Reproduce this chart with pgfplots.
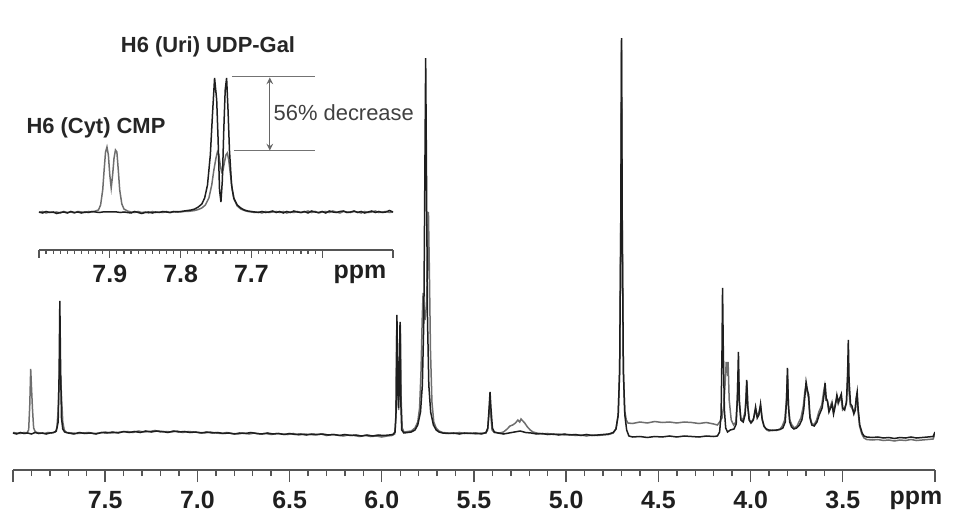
\documentclass[border=0pt]{standalone}
\usepackage{fontspec}
\setmainfont{Liberation Sans}
\usepackage{pgfplots}
\pgfplotsset{compat=1.18}

\definecolor{traceA}{HTML}{1E1E1E}
\definecolor{traceB}{HTML}{6E6E6E}
\definecolor{axcol}{HTML}{555555}

\begin{document}
\begin{tikzpicture}
\useasboundingbox (0,0) rectangle (481bp,263bp);

% ---- main spectrum ----
\begin{axis}[
    at={(6.5bp,28bp)}, anchor=south west,
    scale only axis, width=461bp, height=220bp,
    xmin=3, xmax=8, ymin=0, ymax=440,
    x dir=reverse,
    axis x line=bottom, axis y line=none,
    axis line style={-, color=axcol, line width=0.8bp},
    xtick={3.5,4.0,4.5,5.0,5.5,6.0,6.5,7.0,7.5,8.0},
    xticklabels={3.5,4.0,4.5,5.0,5.5,6.0,6.5,7.0,7.5,{}},
    extra x ticks={3.0},
    extra x tick labels={ppm},
    extra x tick style={xticklabel style={xshift=-9.5bp}},
    minor x tick num=4,
    tick align=outside,
    major tick length=6bp, minor tick length=3bp,
    tick style={color=axcol, line width=0.7bp},
    xticklabel style={font=\bfseries\fontsize{12.5}{14}\selectfont, text=black!88, yshift=-1bp},
]
% second spectrum (CMP present, UDP-Gal decreased)
\addplot[traceB, line width=0.75bp] table {
8.00 37.5
7.98 37
7.96 36.5
7.94 37.5
7.925 37
7.915 40
7.909 65
7.904 101
7.899 80
7.894 60
7.888 42
7.880 38.5
7.87 37.5
7.85 37
7.83 36.5
7.81 37.5
7.79 37
7.77 38
7.762 42
7.755 60
7.750 88
7.746 100
7.741 90
7.736 70
7.730 48
7.722 40
7.71 37.5
7.68 37
7.65 36.5
7.62 37
7.59 37.5
7.56 36.5
7.53 37
7.50 38
7.47 37
7.44 37.5
7.41 38
7.38 38.5
7.35 37.5
7.32 39
7.29 38
7.26 38.5
7.23 39.5
7.20 38
7.17 38.5
7.14 38
7.11 39
7.08 37.5
7.05 38.5
7.02 38
6.99 37.5
6.96 37
6.93 38
6.90 37
6.87 36.5
6.84 37.5
6.81 36.5
6.78 36
6.75 37
6.72 36
6.69 37
6.66 36
6.63 36.5
6.60 35.5
6.57 36.5
6.54 36
6.51 35.5
6.48 36.5
6.45 35
6.42 36
6.39 35.5
6.36 35
6.33 36
6.30 34.5
6.27 35.5
6.24 35
6.21 34
6.18 35
6.15 34.5
6.12 33.5
6.09 34.5
6.06 33.5
6.03 34
6.00 33
5.97 34
5.945 34.5
5.930 36
5.924 50
5.919 140
5.914 95
5.909 60
5.904 100
5.899 145
5.895 70
5.889 42
5.88 38
5.86 38.5
5.84 39
5.82 42
5.805 48
5.795 62
5.787 100
5.781 150
5.776 177
5.771 160
5.765 150
5.758 165
5.752 200
5.747 258
5.742 200
5.736 120
5.728 68
5.718 48
5.705 42
5.69 39
5.67 37.5
5.64 37
5.61 36.5
5.58 37.5
5.55 36.5
5.52 37
5.49 36
5.46 37
5.435 37
5.426 40
5.419 55
5.414 68
5.409 55
5.402 40
5.39 37.5
5.36 37
5.34 38
5.32 41
5.305 44
5.29 45
5.275 47
5.262 50
5.252 48
5.245 51
5.235 49
5.225 47
5.21 43
5.195 40
5.18 38
5.16 37
5.13 36
5.10 36.5
5.07 35.5
5.04 36
5.01 35
4.98 35.5
4.95 34.5
4.92 35
4.89 34
4.86 35
4.83 34.5
4.80 35
4.77 35.5
4.745 37
4.73 41
4.718 55
4.710 100
4.704 240
4.700 420
4.696 240
4.690 100
4.683 60
4.674 50
4.665 47
4.64 46.5
4.60 48
4.56 47
4.52 48.5
4.48 47.5
4.44 48
4.40 47
4.36 48
4.32 47.5
4.28 46.5
4.24 47.5
4.20 46
4.18 45
4.168 48
4.155 52
4.145 65
4.137 90
4.132 108
4.127 100
4.122 108
4.116 70
4.105 50
4.092 45
4.080 48
4.072 70
4.068 100
4.062 68
4.053 52
4.042 50
4.030 58
4.025 72
4.020 88
4.014 62
4.006 50
3.995 48
3.983 52
3.972 60
3.963 54
3.954 58
3.946 64
3.937 50
3.925 43
3.912 40
3.90 39
3.88 40
3.86 39.5
3.84 41
3.828 44
3.815 50
3.806 68
3.800 95
3.794 62
3.787 50
3.776 45
3.762 42
3.748 44
3.738 48
3.727 52
3.714 64
3.706 78
3.700 84
3.693 78
3.686 72
3.679 55
3.669 47
3.656 45
3.642 50
3.630 58
3.614 65
3.604 78
3.598 84
3.592 70
3.584 70
3.576 60
3.567 64
3.559 68
3.551 58
3.541 66
3.533 72
3.525 66
3.517 70
3.509 72
3.501 60
3.491 62
3.481 66
3.475 85
3.471 110
3.467 80
3.459 64
3.451 62
3.441 58
3.433 62
3.428 70
3.423 75
3.418 60
3.409 44
3.397 36
3.385 32
3.37 30.5
3.34 30
3.31 30.5
3.28 29.5
3.25 30
3.22 29
3.19 30
3.16 29.5
3.13 30.5
3.10 29.5
3.07 30
3.04 30.5
3.01 31
3.00 36
};
% reference spectrum
\addplot[traceA, line width=0.75bp] table {
8.00 37
7.98 36
7.96 37.5
7.94 36.5
7.92 37
7.90 36
7.88 37.5
7.86 36.5
7.84 37
7.82 36
7.80 37
7.78 37.5
7.765 39
7.755 48
7.750 95
7.746 169
7.742 105
7.737 52
7.730 41
7.72 38
7.70 37
7.67 36
7.64 37.5
7.61 36.5
7.58 37
7.55 36
7.52 37.5
7.49 37
7.46 38
7.43 37
7.40 38.5
7.37 37.5
7.34 38.5
7.31 37.5
7.28 39
7.25 38
7.22 39
7.19 38.5
7.16 37.5
7.13 39
7.10 38
7.07 38.5
7.04 37.5
7.01 38
6.98 37
6.95 38
6.92 37
6.89 37.5
6.86 36.5
6.83 37
6.80 36
6.77 37
6.74 36.5
6.71 37.5
6.68 36.5
6.65 36
6.62 37
6.59 36
6.56 36.5
6.53 35.5
6.50 36.5
6.47 35.5
6.44 36
6.41 35
6.38 36
6.35 35.5
6.32 36
6.29 35
6.26 35.5
6.23 34.5
6.20 35.5
6.17 34.5
6.14 35
6.11 34
6.08 35
6.05 34
6.02 35
5.99 34.5
5.96 35
5.94 35.5
5.928 38
5.922 60
5.918 155
5.913 90
5.909 62
5.905 95
5.901 148
5.897 70
5.892 40
5.88 37
5.86 37.5
5.84 38
5.82 40
5.805 45
5.79 58
5.78 85
5.772 150
5.767 280
5.762 412
5.757 280
5.752 150
5.745 85
5.735 58
5.72 45
5.705 40
5.69 38
5.67 37
5.64 36.5
5.61 37
5.58 36
5.55 37
5.52 36.5
5.49 37
5.46 36
5.435 37.5
5.425 42
5.418 62
5.413 78
5.408 62
5.400 42
5.39 38
5.37 37
5.34 36
5.31 37
5.28 38
5.25 39
5.22 37.5
5.19 37
5.16 36
5.13 36.5
5.10 35.5
5.07 36
5.04 35
5.01 36
4.98 35
4.95 35.5
4.92 34.5
4.89 35.5
4.86 34.5
4.83 35
4.80 35.5
4.77 36
4.745 37.5
4.73 41
4.718 55
4.710 100
4.704 250
4.700 432
4.696 250
4.690 100
4.682 55
4.672 40
4.66 34
4.64 33
4.60 33.5
4.56 32.5
4.52 33.5
4.48 33
4.44 34
4.40 33
4.36 34
4.32 33.5
4.28 33
4.24 34
4.20 33.5
4.18 34
4.168 38
4.160 55
4.155 120
4.152 182
4.148 120
4.142 60
4.135 42
4.125 38
4.11 40
4.09 41
4.078 46
4.071 75
4.066 118
4.061 70
4.053 50
4.040 48
4.030 55
4.025 70
4.021 90
4.016 65
4.008 50
3.998 47
3.985 50
3.973 63
3.964 52
3.955 55
3.946 66
3.938 52
3.928 44
3.915 41
3.90 40
3.88 39.5
3.86 40
3.84 40.5
3.825 42
3.812 48
3.805 70
3.800 102
3.795 65
3.788 48
3.778 43
3.765 41
3.75 42
3.735 45
3.722 50
3.712 60
3.705 75
3.699 88
3.692 80
3.685 75
3.678 52
3.668 45
3.655 44
3.640 48
3.628 55
3.612 62
3.602 75
3.596 87
3.590 72
3.582 68
3.575 58
3.566 62
3.558 66
3.550 56
3.540 65
3.532 75
3.524 68
3.516 72
3.508 76
3.500 62
3.490 60
3.480 68
3.474 95
3.470 130
3.466 90
3.458 66
3.450 64
3.440 56
3.432 60
3.427 72
3.422 78
3.417 62
3.408 45
3.395 37
3.385 34
3.37 33
3.34 32.5
3.31 33
3.28 32
3.25 32.5
3.22 31.5
3.19 32.5
3.16 32
3.13 33
3.10 32
3.07 32.5
3.04 33
3.01 33.5
3.00 38
};
\end{axis}

% ---- inset: expansion of the H6 region ----
\begin{axis}[
    at={(19.5bp,138bp)}, anchor=south west,
    scale only axis, width=177bp, height=95bp,
    xmin=7.5, xmax=8.0, ymin=0, ymax=190,
    x dir=reverse, clip=false,
    axis x line=bottom, axis y line=none,
    axis line style={-, color=axcol, line width=0.8bp},
    xtick={7.6,7.7,7.8,7.9,8.0},
    xticklabels={{},7.7,7.8,7.9,{}},
    extra x ticks={7.5},
    extra x tick labels={ppm},
    extra x tick style={xticklabel style={xshift=-16.5bp}},
    minor x tick num=9,
    tick align=outside,
    major tick length=4bp, minor tick length=2bp,
    tick style={color=axcol, line width=0.6bp},
    xticklabel style={font=\bfseries\fontsize{12.5}{14}\selectfont, text=black!88},
]
\addplot[traceB, line width=0.75bp] table {
8.000 37.5
7.995 38.5
7.990 37
7.985 38
7.980 37.5
7.975 38
7.970 37
7.965 38.5
7.960 37.5
7.955 38
7.950 37
7.945 38.5
7.940 38
7.935 37.5
7.930 38.5
7.925 38
7.920 39
7.916 40
7.913 45
7.910 60
7.908 80
7.906 98
7.904 103
7.902 95
7.900 75
7.898 62
7.896 75
7.894 92
7.892 100
7.890 98
7.888 80
7.886 60
7.883 46
7.880 41
7.875 39
7.870 38
7.865 37.5
7.860 38.5
7.855 37.5
7.850 38
7.845 37
7.840 38.5
7.835 37.5
7.830 38
7.825 37.5
7.820 38.5
7.815 37.5
7.810 38
7.805 38.5
7.800 38
7.795 38.5
7.790 38.5
7.785 39
7.780 39.5
7.775 40.5
7.770 42
7.765 45
7.760 52
7.756 65
7.753 80
7.750 92
7.748 98
7.746 95
7.744 85
7.742 78
7.740 80
7.738 88
7.736 95
7.734 97
7.732 90
7.730 78
7.727 60
7.724 50
7.720 44
7.715 41
7.710 39.5
7.705 38.5
7.700 38
7.695 37.5
7.690 38
7.685 37
7.680 38.5
7.675 37.5
7.670 38
7.665 38.5
7.660 37.5
7.655 38.5
7.650 37
7.645 38
7.640 37.5
7.635 38.5
7.630 37.5
7.625 38
7.620 39
7.615 37.5
7.610 38.5
7.605 37
7.600 38
7.595 38.5
7.590 37.5
7.585 39
7.580 38
7.575 37
7.570 38.5
7.565 38
7.560 37.5
7.555 38.5
7.550 38
7.545 37
7.540 38.5
7.535 37.5
7.530 38
7.525 39
7.520 37.5
7.515 38
7.510 38.5
7.505 37.5
7.500 38
};
\addplot[traceA, line width=0.75bp] table {
8.000 38
7.995 37
7.990 38.5
7.985 37.5
7.980 38
7.975 36.5
7.970 37.5
7.965 38
7.960 37
7.955 38.5
7.950 37.5
7.945 38
7.940 37
7.935 38
7.930 37.5
7.925 38.5
7.920 38
7.915 37.5
7.910 38
7.905 38
7.900 38
7.895 38
7.890 38
7.885 37.5
7.880 38
7.875 37.5
7.870 37
7.865 38.5
7.860 37.5
7.855 36.5
7.850 37.5
7.845 38
7.840 37
7.835 38
7.830 37.5
7.825 38.5
7.820 38
7.815 37.5
7.810 38.5
7.805 38
7.800 38.5
7.795 39
7.790 39.5
7.785 40
7.780 41
7.775 43
7.770 46
7.766 52
7.762 65
7.758 95
7.755 135
7.752 172
7.749 150
7.747 110
7.745 60
7.743 48
7.741 70
7.739 120
7.737 160
7.735 172
7.733 140
7.731 100
7.728 65
7.725 52
7.720 45
7.715 42
7.710 40
7.705 39
7.700 38.5
7.695 38
7.690 37.5
7.685 38.5
7.680 37.5
7.675 38
7.670 39
7.665 37.5
7.660 38.5
7.655 37
7.650 38.5
7.645 37.5
7.640 39
7.635 38
7.630 37.5
7.625 38.5
7.620 37
7.615 39
7.610 38
7.605 37.5
7.600 38.5
7.595 37
7.590 39
7.585 38
7.580 37.5
7.575 38.5
7.570 39
7.565 37.5
7.560 38
7.555 39
7.550 37.5
7.545 38.5
7.540 37
7.535 38
7.530 39
7.525 37.5
7.520 38.5
7.515 37.5
7.510 38
7.505 39.5
7.500 38
};
% intensity-change marker
\draw[black!55, line width=0.5bp] (axis cs:7.7274,173) -- (axis cs:7.610,173);
\draw[black!55, line width=0.5bp] (axis cs:7.7245,99) -- (axis cs:7.610,99);
\draw[black!60, line width=0.5bp, <->, >=stealth] (axis cs:7.674,172.5) -- (axis cs:7.674,99.5);
\node[anchor=west, inner sep=0pt, text=black!75, font=\fontsize{11}{13}\selectfont]
    at (axis cs:7.669,137) {56\% decrease};
\end{axis}

\node[font=\bfseries\fontsize{11}{13}\selectfont, text=black!85] at (104bp,239.5bp) {H6 (Uri) UDP-Gal};
\node[font=\bfseries\fontsize{11}{13}\selectfont, text=black!85] at (48bp,199bp) {H6 (Cyt) CMP};
\end{tikzpicture}
\end{document}
